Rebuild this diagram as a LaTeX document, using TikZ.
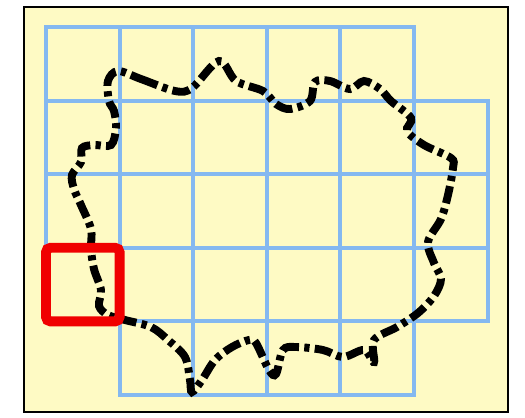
\documentclass[tikz,border=0pt]{standalone}
\usetikzlibrary{positioning}
\definecolor{paper}{RGB}{254,250,196}
\definecolor{gridblue}{RGB}{132,184,240}
\definecolor{mark}{RGB}{240,0,0}

\begin{document}
\begin{tikzpicture}[x=0.02cm, y=-0.02cm,
    frame/.style={draw=black, line width=1.5pt, fill=paper},
    cell/.style={draw=gridblue, line width=2.2pt, minimum size=1.472cm, inner sep=0pt},
    highlight/.style={draw=mark, line width=5.6pt, rounded corners=2.5pt, minimum size=1.472cm, inner sep=0pt},
    outline/.style={draw=black, line width=4.5pt,
        dash pattern=on 10pt off 3pt on 3pt off 3pt}]
    \useasboundingbox (0,0) rectangle (525,417);
    \draw[frame] (24,7) rectangle (508,412);
    % grid of cells, row by row
    \foreach \r/\first/\last in {0/0/4, 1/0/5, 2/0/5, 3/0/5, 4/1/4}
        \foreach \c in {\first,...,\last}
            \node[cell] (c-\c-\r) at ({82.8+73.6*\c}, {63.8+73.6*\r}) {};
    % irregular outline
    \draw[outline] plot[smooth cycle, tension=0.55] coordinates {
        (118,71) (141,79) (175,91) (192,88) (219,61) (236,81) (263,91)
        (276,104) (290,109) (310,101) (315,82) (330,81) (350,89) (364,81)
        (380,89) (391,101) (411,118) (407,131) (424,145) (451,158) (453,168)
        (448,195) (441,219) (428,242) (434,263) (441,279) (434,296) (418,313)
        (397,327) (374,340) (374,362) (364,350) (343,357) (323,350) (296,347)
        (283,350) (276,374) (269,370) (256,343) (249,340) (232,347) (215,360)
        (202,380) (192,392) (190,380) (185,357) (168,340) (151,327) (125,320)
        (108,315) (99,306) (101,290) (94,269) (91,249) (91,229) (81,205)
        (74,189) (72,175) (81,162) (82,148) (94,145) (111,145) (116,128)
        (114,111) (109,101) (108,81)};
    % marked cell
    \node[highlight] (hl) at (c-0-3) {};
\end{tikzpicture}
\end{document}
